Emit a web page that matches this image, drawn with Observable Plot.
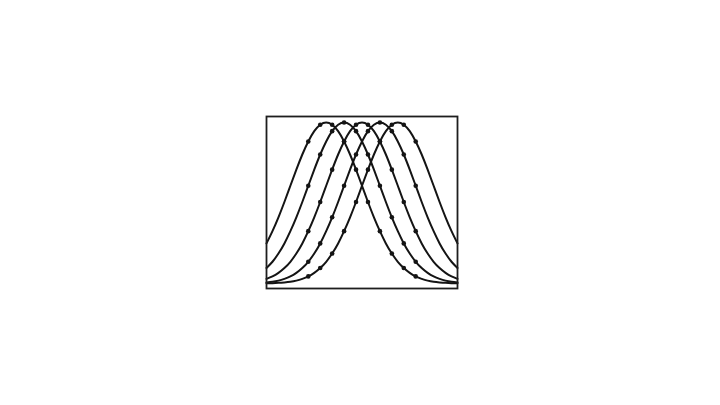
<!DOCTYPE html>
<html>
<head>
<meta charset="utf-8">
<script src="https://cdn.jsdelivr.net/npm/d3@7"></script>
<script src="https://cdn.jsdelivr.net/npm/@observablehq/plot@0.6"></script>
<style>
  html, body { margin: 0; padding: 0; background: #ffffff; }
  #chart svg { display: block; }
</style>
</head>
<body>
<div id="chart"></div>
<script>
// x positions of the sampled curve values
const xValues = [-8,-7.5,-7,-6.5,-6,-5.5,-5,-4.5,-4,-3.5,-3,-2.5,-2,-1.5,-1,-0.5,0,0.5,1,1.5,2,2.5,3,3.5,4,4.5,5,5.5,6,6.5,7,7.5,8];
// x positions that carry a marker dot
const dotX = [-4.5,-3.5,-2.5,-1.5,-0.5,0.5,1.5,2.5,3.5,4.5];
const seriesNames = ["A","B","C","D","E"];
const seriesA = [0.249,0.325,0.411,0.506,0.607,0.707,0.801,0.882,0.946,0.986,1,0.986,0.946,0.882,0.801,0.707,0.607,0.506,0.411,0.325,0.249,0.186,0.135,0.096,0.066,0.044,0.029,0.018,0.011,0.007,0.004,0.002,0.001];
const seriesB = [0.096,0.135,0.186,0.249,0.325,0.411,0.506,0.607,0.707,0.801,0.882,0.946,0.986,1,0.986,0.946,0.882,0.801,0.707,0.607,0.506,0.411,0.325,0.249,0.186,0.135,0.096,0.066,0.044,0.029,0.018,0.011,0.007];
const seriesC = [0.029,0.044,0.066,0.096,0.135,0.186,0.249,0.325,0.411,0.506,0.607,0.707,0.801,0.882,0.946,0.986,1,0.986,0.946,0.882,0.801,0.707,0.607,0.506,0.411,0.325,0.249,0.186,0.135,0.096,0.066,0.044,0.029];
const seriesD = [0.007,0.011,0.018,0.029,0.044,0.066,0.096,0.135,0.186,0.249,0.325,0.411,0.506,0.607,0.707,0.801,0.882,0.946,0.986,1,0.986,0.946,0.882,0.801,0.707,0.607,0.506,0.411,0.325,0.249,0.186,0.135,0.096];
const seriesE = [0.001,0.002,0.004,0.007,0.011,0.018,0.029,0.044,0.066,0.096,0.135,0.186,0.249,0.325,0.411,0.506,0.607,0.707,0.801,0.882,0.946,0.986,1,0.986,0.946,0.882,0.801,0.707,0.607,0.506,0.411,0.325,0.249];

const allSeries = [seriesA, seriesB, seriesC, seriesD, seriesE];
const rows = [];
allSeries.forEach((vals, i) => {
  vals.forEach((v, j) => rows.push({series: seriesNames[i], x: xValues[j], y: v}));
});
const dotRows = rows.filter(d => dotX.includes(d.x));

const ink = "#141414";
const chart = Plot.plot({
  width: 720,
  height: 405,
  marginLeft: 266,
  marginRight: 263,
  marginTop: 116,
  marginBottom: 117,
  x: {domain: [-8, 8], axis: null},
  y: {domain: [-0.031, 1.037], axis: null},
  style: {background: "#ffffff"},
  marks: [
    Plot.line(rows, {x: "x", y: "y", z: "series", curve: "natural", stroke: ink, strokeWidth: 2}),
    Plot.dot(dotRows, {x: "x", y: "y", r: 2.3, fill: ink, stroke: "none"}),
    Plot.frame({stroke: "#1e1e1e", strokeWidth: 1.8})
  ]
});
document.getElementById("chart").appendChild(chart);
</script>
</body>
</html>
